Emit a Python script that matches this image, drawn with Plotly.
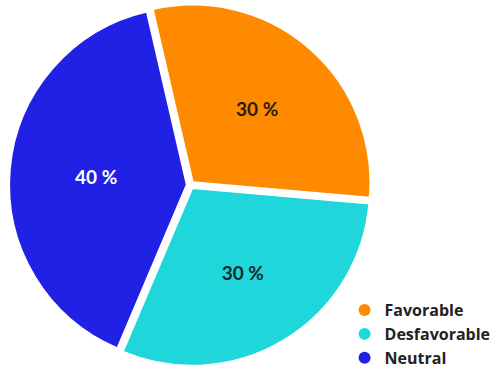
import plotly.graph_objects as go

labels = ["Favorable", "Desfavorable", "Neutral"]
values = [30, 30, 40]
colors = ["#FF8A00", "#1FD6DA", "#2121E6"]
text_colors = ["#2a1a10", "#102a2a", "#ffffff"]

fig = go.Figure()
fig.add_trace(go.Pie(
    labels=labels, values=values, sort=False, direction="clockwise",
    rotation=-13, pull=[0.02, 0.02, 0.02],
    marker=dict(colors=colors, line=dict(color="white", width=2)),
    texttemplate="%{value} %", textposition="inside",
    insidetextfont=dict(family="Lato", size=19, color=text_colors, weight="bold"),
    insidetextorientation="horizontal",
    showlegend=False, hoverinfo="label+percent",
    domain=dict(x=[0.012, 0.745], y=[0.01, 0.99]),
))
for lab, col in zip(labels, colors):
    fig.add_trace(go.Scatter(x=[None], y=[None], mode="markers", name=lab,
                             marker=dict(symbol="circle", size=13, color=col)))

fig.update_layout(
    width=503, height=370, margin=dict(l=0, r=0, t=0, b=0, autoexpand=False),
    paper_bgcolor="white", plot_bgcolor="white",
    xaxis=dict(visible=False), yaxis=dict(visible=False),
    legend=dict(x=0.685, y=-0.014, xanchor="left", yanchor="bottom",
                font=dict(family="Open Sans", size=16, color="#222222", weight="bold"),
                itemsizing="constant", tracegroupgap=0, bgcolor="rgba(0,0,0,0)"),
)
fig.write_html("out.html")
